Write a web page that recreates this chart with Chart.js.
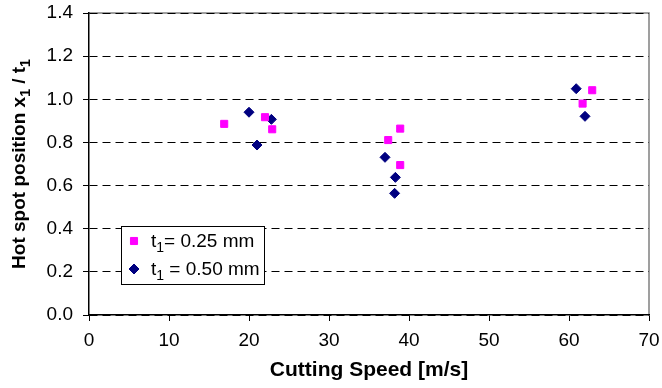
<!DOCTYPE html>
<html>
<head>
<meta charset="utf-8">
<script src="https://cdn.jsdelivr.net/npm/chart.js@4/dist/chart.umd.min.js"></script>
<style>
  html, body { margin: 0; padding: 0; background: #fff; }
  #wrap { width: 662px; height: 388px; }
</style>
</head>
<body>
<div id="wrap"><canvas id="hotSpotChart" width="662" height="388"></canvas></div>
<script>
// values
const speedThin = [16.9, 22.0, 22.9, 37.4, 38.9, 38.9, 61.7, 62.9];
const posThin = [0.886, 0.917, 0.861, 0.811, 0.864, 0.695, 0.980, 1.042];
const speedThick = [20.0, 21.0, 22.8, 37.0, 38.3, 38.2, 60.9, 62.0];
const posThick = [0.940, 0.788, 0.907, 0.731, 0.638, 0.564, 1.049, 0.921];

const seriesNames = ['t1= 0.25 mm', 't1 = 0.50 mm'];
const xTicks = [0, 10, 20, 30, 40, 50, 60, 70];
const yTicks = [0, 0.2, 0.4, 0.6, 0.8, 1.0, 1.2, 1.4];

const FONT = '"Liberation Sans", Arial, sans-serif';
const PINK = '#ff00ff';
const NAVY = '#000080';

function toPoints(xs, ys) {
    return xs.map((x, i) => ({ x: x, y: ys[i] }));
}

// draws text where a "1" right after t or x is set as a subscript
function drawSubText(ctx, text, x, y, size, bold) {
    const weight = bold ? 'bold ' : '';
    const subSize = Math.round(size * 0.72);
    let cx = x;
    for (let i = 0; i < text.length; i++) {
        const ch = text[i];
        const sub = ch === '1' && i > 0 && (text[i - 1] === 't' || text[i - 1] === 'x');
        ctx.font = weight + (sub ? subSize : size) + 'px ' + FONT;
        ctx.fillText(ch, cx, sub ? y + size * 0.25 : y);
        cx += ctx.measureText(ch).width;
    }
    return cx - x;
}

function measureSubText(ctx, text, size, bold) {
    ctx.save();
    ctx.globalAlpha = 0;
    const w = drawSubText(ctx, text, 0, 0, size, bold);
    ctx.restore();
    return w;
}

const framePlugin = {
    id: 'frame',
    beforeDraw(chart) {
        const { ctx, chartArea: a } = chart;
        ctx.save();
        ctx.strokeStyle = '#808080';
        ctx.lineWidth = 1.5;
        ctx.beginPath();
        ctx.moveTo(a.left, a.top);
        ctx.lineTo(a.right, a.top);
        ctx.lineTo(a.right, a.bottom);
        ctx.stroke();
        ctx.restore();
    },
    afterDraw(chart) {
        const { ctx, chartArea: a } = chart;
        ctx.save();
        // y axis title with subscripts
        const title = 'Hot spot position x1 / t1';
        const size = 19;
        const w = measureSubText(ctx, title, size, true);
        ctx.translate(25, (a.top + a.bottom) / 2);
        ctx.rotate(-Math.PI / 2);
        ctx.fillStyle = '#000';
        ctx.textBaseline = 'alphabetic';
        drawSubText(ctx, title, -w / 2, 0, size, true);
        ctx.restore();

        // legend box inside the plot
        const bx = a.left + 32, by = a.top + 213, bw = 143, bh = 58;
        ctx.save();
        ctx.fillStyle = '#fff';
        ctx.fillRect(bx, by, bw, bh);
        ctx.strokeStyle = '#000';
        ctx.lineWidth = 1;
        ctx.strokeRect(bx + 0.5, by + 0.5, bw, bh);
        const rows = [
            { style: 'rect', color: PINK, r: 5, y: by + 15 },
            { style: 'rectRot', color: NAVY, r: 5, y: by + 43 }
        ];
        rows.forEach((row, i) => {
            ctx.fillStyle = row.color;
            ctx.strokeStyle = row.color;
            Chart.helpers.drawPoint(ctx, { pointStyle: row.style, radius: row.r, borderWidth: 1, rotation: 0 }, bx + 13, row.y);
            ctx.fillStyle = '#000';
            ctx.textBaseline = 'alphabetic';
            drawSubText(ctx, seriesNames[i], bx + 30, row.y + 6, 19, false);
        });
        ctx.restore();
    }
};

const ctx = document.getElementById('hotSpotChart').getContext('2d');
const hotSpotChart = new Chart(ctx, {
    type: 'scatter',
    data: {
        datasets: [
            {
                label: seriesNames[0],
                data: toPoints(speedThin, posThin),
                pointStyle: 'rect',
                pointRadius: 5,
                pointBorderWidth: 1,
                backgroundColor: PINK,
                borderColor: PINK
            },
            {
                label: seriesNames[1],
                data: toPoints(speedThick, posThick),
                pointStyle: 'rectRot',
                pointRadius: 5,
                pointBorderWidth: 1,
                backgroundColor: NAVY,
                borderColor: NAVY
            }
        ]
    },
    options: {
        responsive: false,
        animation: false,
        layout: { padding: { left: 0, right: 13, top: 13, bottom: 0 } },
        plugins: {
            legend: { display: false },
            tooltip: { enabled: false }
        },
        scales: {
            x: {
                type: 'linear',
                min: 0,
                max: 70,
                afterBuildTicks: axis => { axis.ticks = xTicks.map(v => ({ value: v })); },
                afterFit: axis => {
                    axis.height = 73;
                    axis.paddingLeft = 0;
                    axis.paddingRight = 0;
                },
                ticks: {
                    color: '#000',
                    font: { family: FONT, size: 19 },
                    padding: 8,
                    maxRotation: 0
                },
                grid: {
                    drawOnChartArea: false,
                    drawTicks: true,
                    tickLength: 6,
                    tickColor: '#000'
                },
                border: { color: '#000', width: 1.5 },
                title: {
                    display: true,
                    text: 'Cutting Speed [m/s]',
                    color: '#000',
                    font: { family: FONT, size: 21, weight: 'bold' },
                    padding: { top: 0, bottom: 5 }
                }
            },
            y: {
                min: 0,
                max: 1.4,
                afterBuildTicks: axis => { axis.ticks = yTicks.map(v => ({ value: v })); },
                afterFit: axis => {
                    axis.width = 89;
                    axis.paddingTop = 0;
                    axis.paddingBottom = 0;
                },
                ticks: {
                    color: '#000',
                    font: { family: FONT, size: 19 },
                    padding: 10,
                    callback: v => v.toFixed(1)
                },
                grid: {
                    color: '#000',
                    lineWidth: 1,
                    drawTicks: true,
                    tickLength: 6,
                    tickColor: '#000'
                },
                border: { color: '#000', width: 1.5, dash: [8, 5] }
            }
        }
    },
    plugins: [framePlugin]
});
</script>
</body>
</html>
